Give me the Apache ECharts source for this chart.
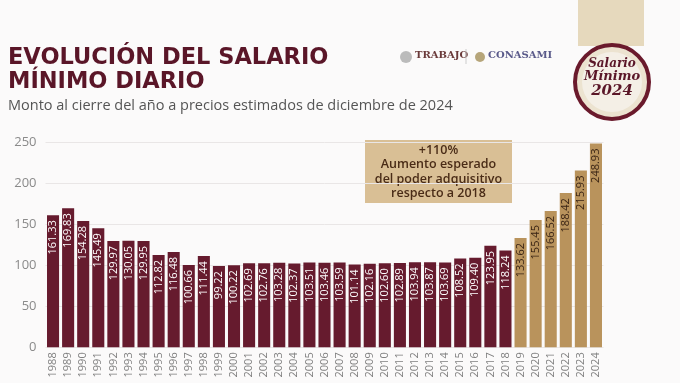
<!DOCTYPE html>
<html><head><meta charset="utf-8">
<script src="https://cdn.jsdelivr.net/npm/echarts@6/dist/echarts.min.js"></script>
<style>html,body{margin:0;padding:0;background:#fbfafa;}#c{width:680px;height:383px;}</style>
</head><body><div id="c"></div>
<script>
const years = ['1988','1989','1990','1991','1992','1993','1994','1995','1996','1997','1998','1999','2000','2001','2002','2003','2004','2005','2006','2007','2008','2009','2010','2011','2012','2013','2014','2015','2016','2017','2018','2019','2020','2021','2022','2023','2024'];
const historic = [161.33,169.83,154.28,145.49,129.97,130.05,129.95,112.82,116.48,100.66,111.44,99.22,100.22,102.69,102.76,103.28,102.37,103.51,103.46,103.59,101.14,102.16,102.60,102.89,103.94,103.87,103.69,108.52,109.40,123.95,118.24,null,null,null,null,null,null];
const projected = [null,null,null,null,null,null,null,null,null,null,null,null,null,null,null,null,null,null,null,null,null,null,null,null,null,null,null,null,null,null,null,133.62,155.45,166.52,188.42,215.93,248.93];
const yTicks = [0,50,100,150,200,250];

const chart = echarts.init(document.getElementById('c'), null, {renderer:'canvas'});
const FONT = '"Open Sans", "Noto Sans", sans-serif';
const lbl = (color) => ({
  show:true, position:'insideTop', rotate:90, align:'right', verticalAlign:'middle',
  distance:5, color:color, fontSize:11, fontFamily:FONT, fontWeight:500,
  formatter:(p)=> p.value==null?'':Number(p.value).toFixed(2)
});
chart.setOption({
  backgroundColor:'#fbfafa',
  animation:false,
  grid:{left:45.5, right:76.5, top:142.7, bottom:35.7},
  xAxis:{type:'category', data:years,
    axisLine:{show:false}, axisTick:{show:false},
    axisLabel:{rotate:90, interval:0, color:'#808080', fontSize:11, fontFamily:FONT, margin:5}},
  yAxis:{type:'value', min:yTicks[0], max:yTicks[yTicks.length-1], interval:50,
    axisLine:{show:false}, axisTick:{show:false},
    axisLabel:{color:'#8a8a8a', fontSize:13, fontFamily:FONT, margin:9},
    splitLine:{lineStyle:{color:'#e9e6e6', width:1}}},
  series:[
    {type:'bar', stack:'s', data:historic, barCategoryGap:'20%',
     itemStyle:{color:'#661b2e'}, label:lbl('#ffffff')},
    {type:'bar', stack:'s', data:projected, barCategoryGap:'20%',
     itemStyle:{color:'#b9935c'}, label:lbl('#3a2414')}
  ],
  graphic:[
    {type:'text', x:8, y:47, style:{text:'EVOLUCIÓN DEL SALARIO', font:'bold 22.5px "DejaVu Sans", sans-serif', fill:'#5a1628'}},
    {type:'text', x:8, y:71, style:{text:'MÍNIMO DIARIO', font:'bold 22.5px "DejaVu Sans", sans-serif', fill:'#5a1628'}},
    {type:'text', x:8, y:98, style:{text:'Monto al cierre del año a precios estimados de diciembre de 2024', font:'14.5px '+FONT, fill:'#555'}},
    {type:'rect', shape:{x:365, y:140, width:147, height:63}, style:{fill:'#d9bf95'}},
    {type:'text', x:438.5, y:143, style:{text:'+110%\nAumento esperado\ndel poder adquisitivo\nrespecto a 2018', align:'center', verticalAlign:'top', font:'600 12.5px '+FONT, fill:'#4a2c17', lineHeight:14.5}},
    // header logos
    {type:'circle', shape:{cx:406, cy:57, r:6}, style:{fill:'#bbb'}},
    {type:'text', x:415, y:50, style:{text:'TRABAJO', font:'bold 10px "DejaVu Serif", serif', fill:'#6a3a3a'}},
    {type:'line', shape:{x1:466, y1:49, x2:466, y2:64}, style:{stroke:'#ccc'}},
    {type:'circle', shape:{cx:480, cy:57, r:5}, style:{fill:'#b6a57a'}},
    {type:'text', x:488, y:50, style:{text:'CONASAMI', font:'bold 10px "DejaVu Serif", serif', fill:'#5a5a8a'}},
    // badge
    {type:'rect', shape:{x:578, y:0, width:66, height:46}, style:{fill:'#e6d9bd'}},
    {type:'circle', shape:{cx:612, cy:82, r:37}, style:{fill:'#ece3d0', stroke:'#6a1a2c', lineWidth:4}},
    {type:'circle', shape:{cx:612, cy:82, r:30}, style:{fill:'#f4efe6'}},
    {type:'text', x:612, y:58, style:{text:'Salario', align:'center', font:'italic bold 12px "DejaVu Serif", serif', fill:'#5a1628'}},
    {type:'text', x:612, y:70, style:{text:'Mínimo', align:'center', font:'italic bold 13px "DejaVu Serif", serif', fill:'#5a1628'}},
    {type:'text', x:612, y:84, style:{text:'2024', align:'center', font:'italic bold 15px "DejaVu Serif", serif', fill:'#5a1628'}}
  ]
});
</script></body></html>
